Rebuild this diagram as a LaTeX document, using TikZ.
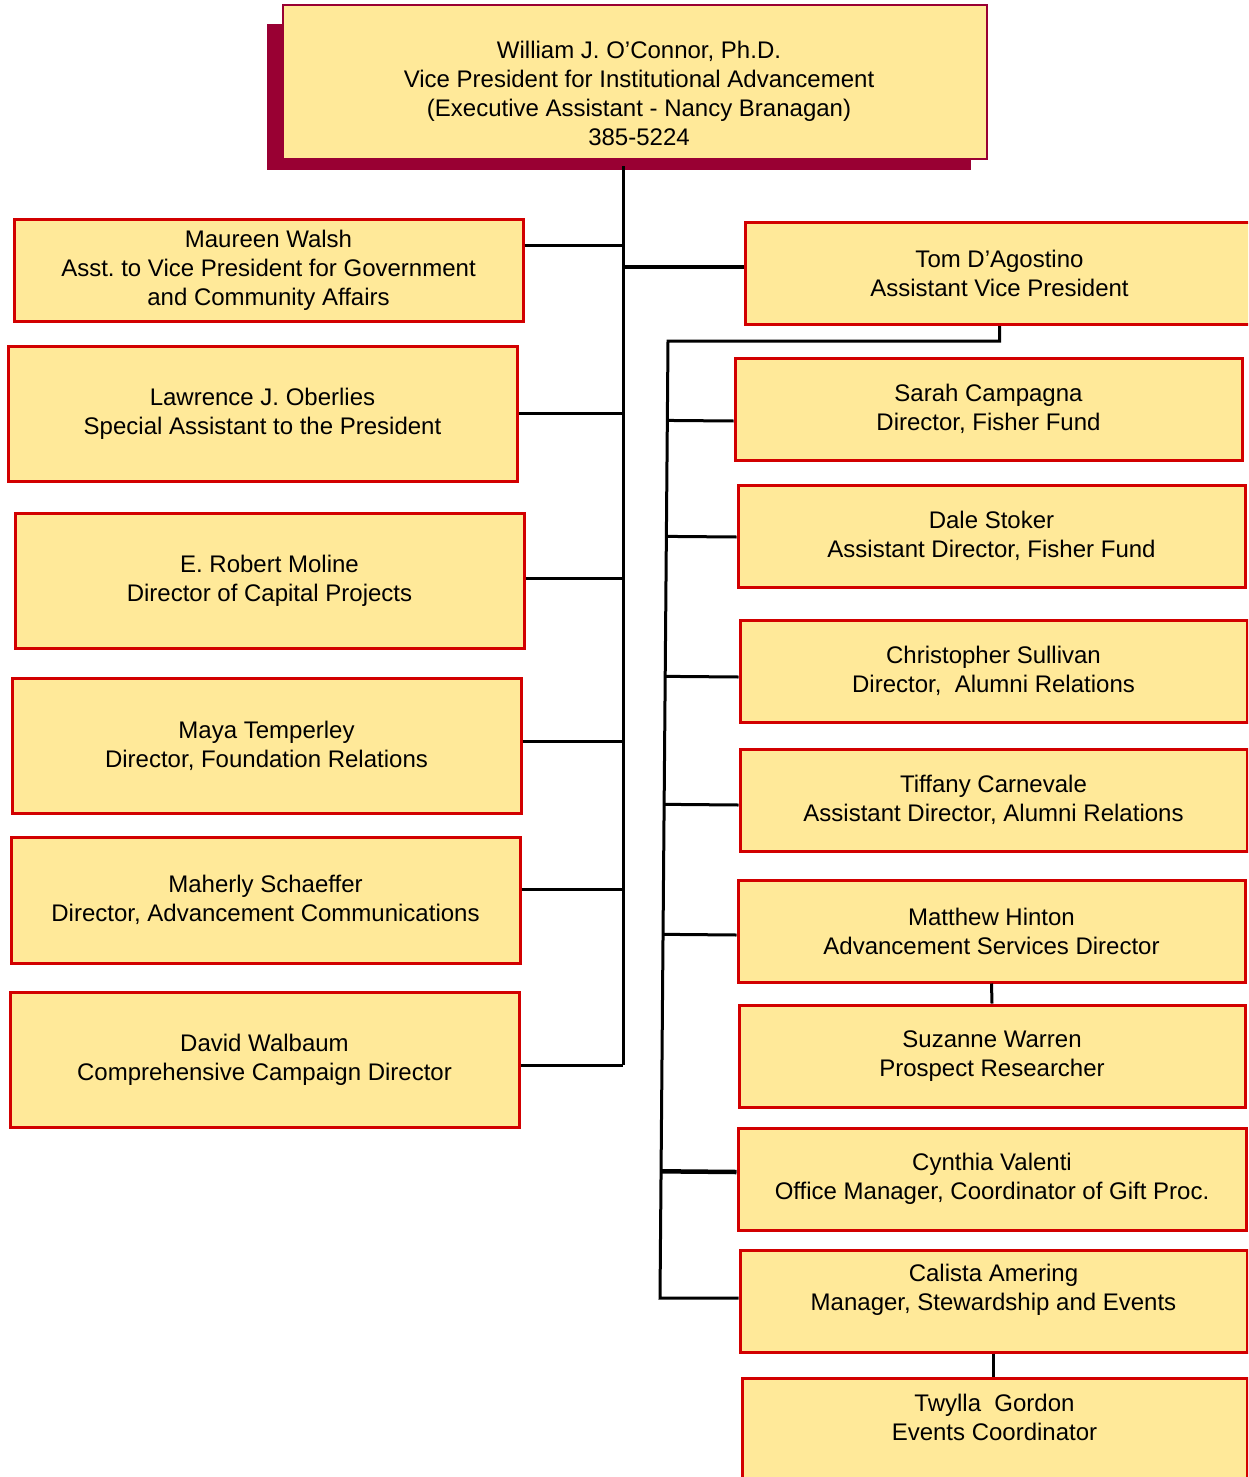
\documentclass[tikz,border=0pt]{standalone}
\usepackage{fontspec}
\setmainfont{Liberation Sans}
\usepackage{tikz}
\usetikzlibrary{calc}
\definecolor{boxfill}{RGB}{255,233,153}
\definecolor{boxline}{RGB}{210,0,0}
\definecolor{maroon}{RGB}{153,0,51}
\frenchspacing

\begin{document}
\begin{tikzpicture}[x=1pt,y=-1pt]
\tikzstyle{every node}=[font=\fontsize{24}{29}\selectfont]
\tikzstyle{staff}=[draw=boxline,fill=boxfill,line width=3pt,minimum width=509pt,minimum height=102pt,align=center,inner sep=0pt]
\tikzstyle{tall}=[minimum height=135pt]
\tikzstyle{link}=[line width=3pt]
\useasboundingbox (0,0) rectangle (1248,1477);
\clip (0,0) rectangle (1248,1477);
\fill[white] (0,0) rectangle (1248,1477);
% vice president with shadow
\fill[maroon] (267,24) rectangle (971,170);
\node[staff,draw=maroon,line width=2pt,minimum width=704pt,minimum height=154pt,
  label={[align=center,xshift=4pt,yshift=-11pt]center:{William J. O’Connor, Ph.D.\\Vice President for Institutional Advancement\\(Executive Assistant - Nancy Branagan)\\385-5224}}] (VP) at (635,82) {};
% left column
\node[staff] (L_1) at (268.5,270) {Maureen Walsh\\Asst. to Vice President for Government\\and Community Affairs};
\node[staff,tall] (L_2) at (262.5,413.5) {Lawrence J. Oberlies\\Special Assistant to the President};
\node[staff,tall] (L_3) at (269.5,580.5) {E. Robert Moline\\Director of Capital Projects};
\node[staff,tall] (L_4) at (266.5,745.5) {Maya Temperley\\Director, Foundation Relations};
\node[staff,minimum height=126pt] (L_5) at (265.5,900) {Maherly Schaeffer\\Director, Advancement Communications};
\node[staff,tall] (L_6) at (264.5,1059.5) {David Walbaum\\Comprehensive Campaign Director};
% right column
\node[staff] (R_0) at (999.5,273.5) {Tom D’Agostino\\Assistant Vice President};
\node[staff,minimum width=507pt] (R_1) at (988.5,409) {Sarah Campagna\\Director, Fisher Fund};
\node[staff,minimum width=507pt] (R_2) at (991.5,536) {Dale Stoker\\Assistant Director, Fisher Fund};
\node[staff,minimum width=507pt] (R_3) at (993.5,671) {Christopher Sullivan\\Director,~ Alumni Relations};
\node[staff,minimum width=507pt] (R_4) at (993.5,800) {Tiffany Carnevale\\Assistant Director, Alumni Relations};
\node[staff,minimum width=507pt] (R_5) at (991.5,931) {Matthew Hinton\\Advancement Services Director};
\node[staff,minimum width=506pt] (R_6) at (992,1056) {Suzanne Warren\\Prospect Researcher};
\node[staff,minimum width=508pt] (R_7) at (992,1179) {Cynthia Valenti\\Office Manager, Coordinator of Gift Proc.};
\node[staff,minimum width=507pt,
  label={[align=center,yshift=11.5pt]center:{Calista Amering\\Manager, Stewardship and Events}}] (R_8) at (993.5,1301) {};
\node[staff,minimum width=505pt,minimum height=122pt,
  label={[align=center,yshift=21.5pt]center:{Twylla~ Gordon\\Events Coordinator}}] (R_9) at (994.5,1439) {};
% main trunk
\coordinate (T_top) at (623,166);
\coordinate (T_bot) at (623,1065);
\draw[link] (T_top) -- (T_bot);
\foreach \n/\dy in {L_1/25,L_2/0,L_3/2.5,L_4/4.5,L_5/11,L_6/-5.5}
  \draw[link] ([yshift=\dy pt]\n.east) coordinate (j) -- (j -| T_top);
\draw[link,line width=4.5pt] ([yshift=6.5pt]R_0.west) coordinate (j) -- (j -| T_top);
% assistant vice president's trunk
\coordinate (S_top) at (668,341);
\coordinate (S_bot) at (660,1298);
\draw[link] (R_0.south) -- (R_0.south |- S_top) -- (S_top) -- (S_bot) -- ([yshift=3pt]R_8.west);
\foreach \n/\dy in {R_1/-12,R_2/-1,R_3/-6,R_4/-5,R_5/-4}
  \draw[link] ([yshift=\dy pt]\n.west) coordinate (j) -- ($(S_top)!(j)!(S_bot)$);
\draw[link,line width=4.5pt] ([yshift=7pt]R_7.west) coordinate (j) -- ($(S_top)!(j)!(S_bot)$);
\draw[link] (R_5.south) -- (R_6.north);
\draw[link] (R_8.south) -- (R_8.south |- R_9.north);
\end{tikzpicture}
\end{document}
